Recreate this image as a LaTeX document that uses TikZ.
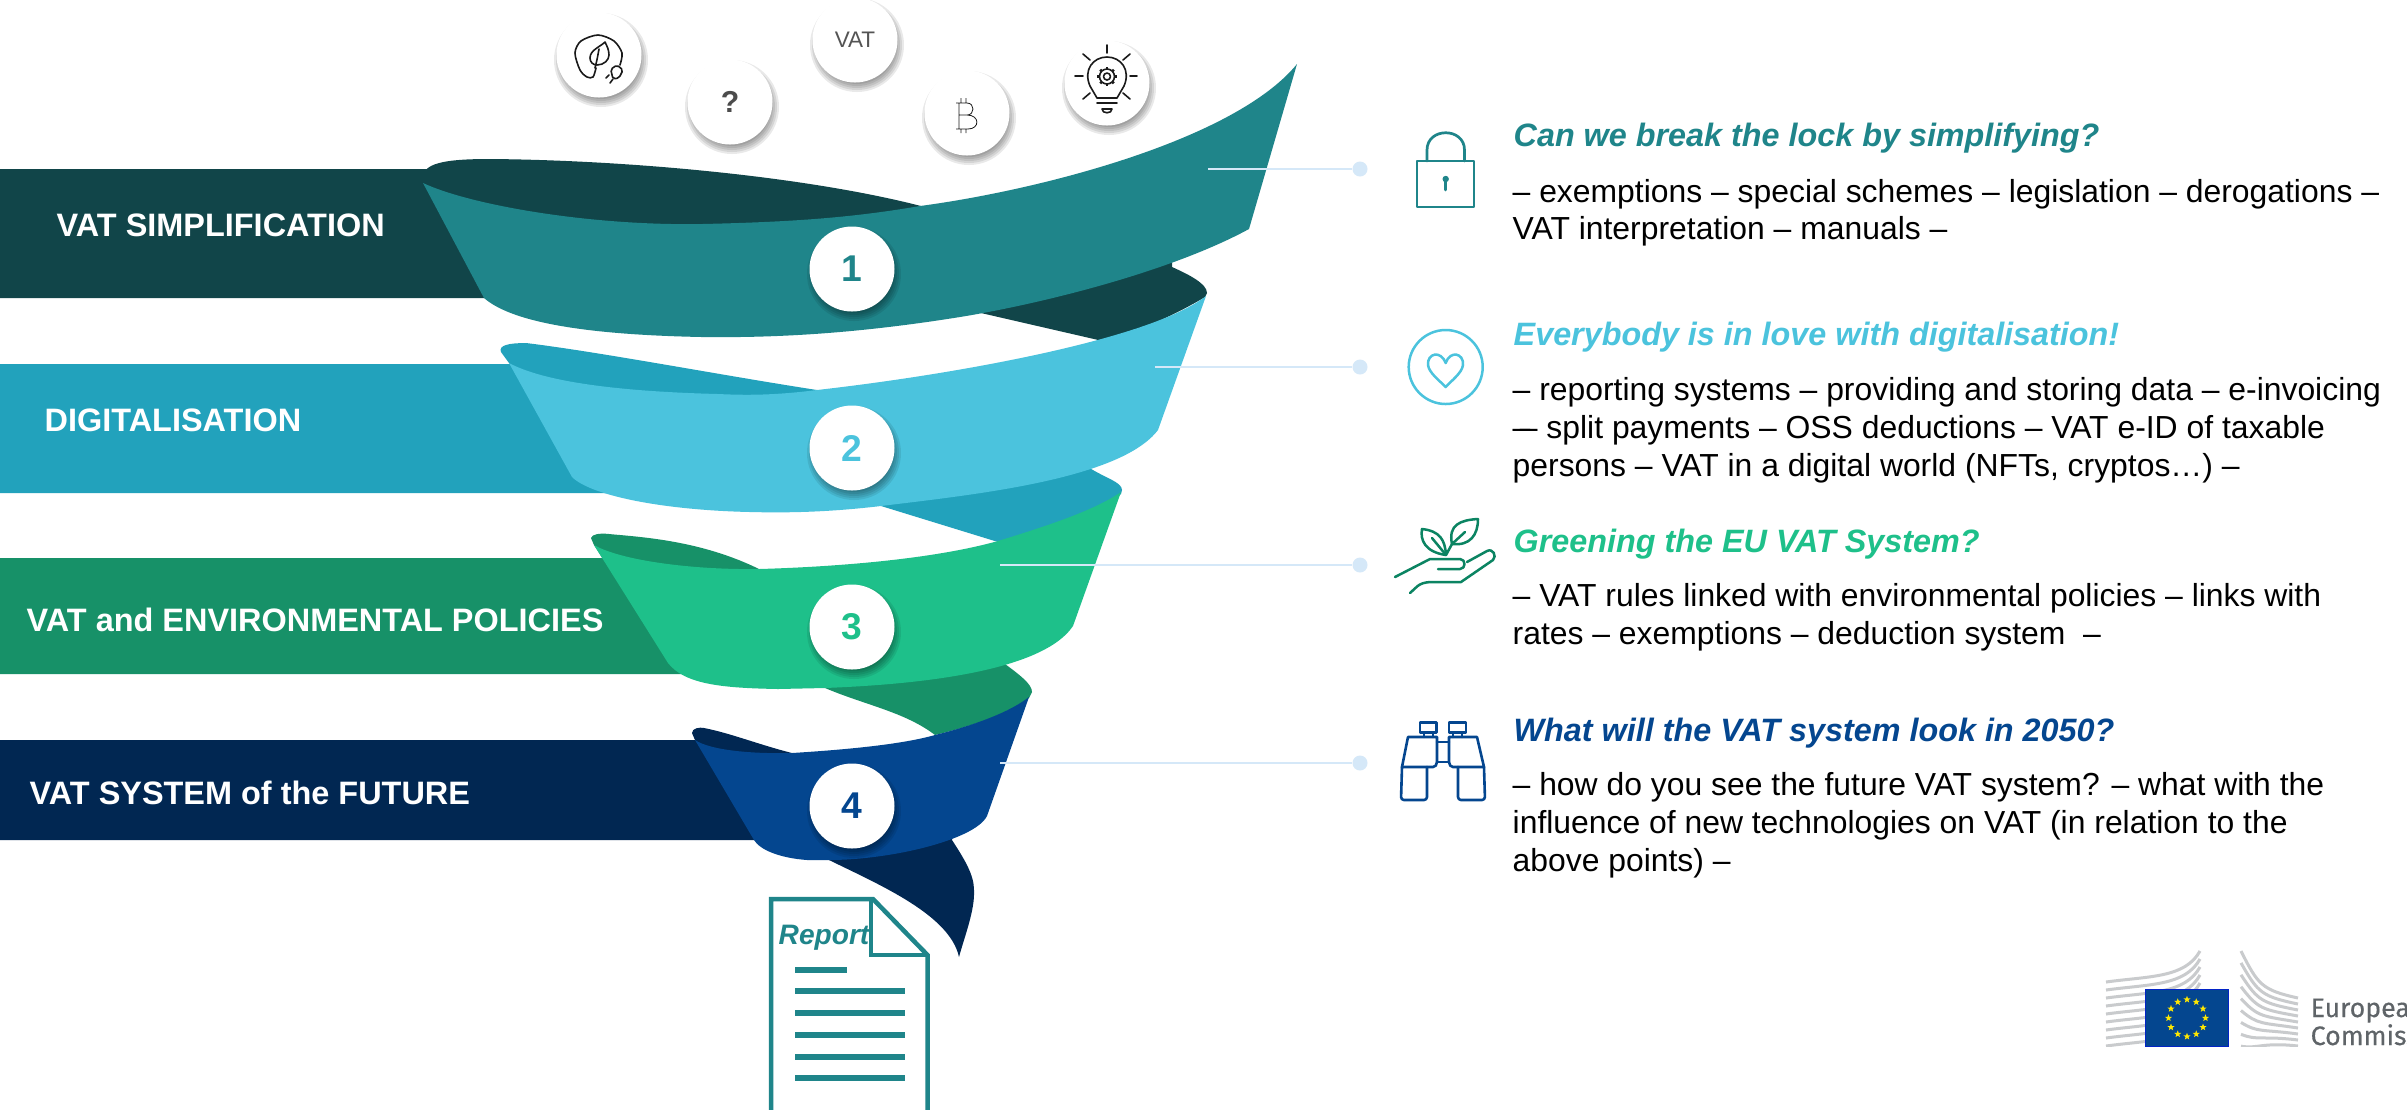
\documentclass[tikz,border=0pt]{standalone}
\usepackage{fontspec}
\setmainfont{Liberation Sans}
\newfontfamily\logofont{Fira Sans}
\usetikzlibrary{shapes.geometric}
\definecolor{tealD}{HTML}{114549}\definecolor{tealM}{HTML}{1F858A}
\definecolor{cyanD}{HTML}{22A2BC}\definecolor{cyanM}{HTML}{4BC3DD}
\definecolor{greenD}{HTML}{179168}\definecolor{greenM}{HTML}{1EC08A}
\definecolor{blueD}{HTML}{012752}\definecolor{blueM}{HTML}{04468F}
\definecolor{connC}{HTML}{D5E8F8}\definecolor{iconK}{HTML}{1A1A1A}
\definecolor{handC}{HTML}{0B8462}\definecolor{bldC}{HTML}{C9CBCD}
\definecolor{logoT}{HTML}{5F6468}
\newcommand{\softshadow}[2]{\foreach \rr in {37,39,...,47}{\fill[black,opacity=.085] (#1+2,#2+5) circle[radius=\rr];}}
\tikzset{
  x=0.1mm,y=-0.1mm,
  circ/.style={circle,fill=white,minimum size=8.5mm,inner sep=0pt},
  numc/.style={circ,font=\fontsize{10.6pt}{12pt}\selectfont\bfseries},
  bandlab/.style={anchor=base west,inner sep=0pt,text=white,font=\fontsize{9.23pt}{11pt}\selectfont\bfseries},
  ttl/.style={anchor=base west,inner sep=0pt,font=\fontsize{9.2pt}{11pt}\selectfont\bfseries\itshape},
  bod/.style={anchor=base west,inner sep=0pt,text=black,font=\fontsize{9.07pt}{11pt}\selectfont},
  conn/.style={draw=connC,line width=0.27mm},
  dotn/.style={circle,fill=connC,minimum size=1.5mm,inner sep=0pt},
  thinic/.style={draw=iconK,line width=0.16mm,line cap=round,line join=round},
  tealic/.style={draw=tealM,line width=0.27mm,line cap=round,line join=round},
  cyanic/.style={draw=cyanM,line width=0.25mm,line cap=round,line join=round},
  handic/.style={draw=handC,line width=0.25mm,line cap=round,line join=round},
  binic/.style={draw=blueM,line width=0.26mm,line cap=round,line join=round},
  docln/.style={fill=tealM},
  stripe/.style={draw=bldC,line width=0.3mm},
  starn/.style={star,star points=5,star point ratio=2.4,fill=yellow!90!orange,minimum size=0.75mm,inner sep=0pt},
}
\begin{document}
\begin{tikzpicture}
\useasboundingbox (0,0) rectangle (2407,1109);
\fill[white] (0,0) rectangle (2407,1109);

% ---- band 1
\fill[tealD] (0,169) -- (440,169) -- (490,298) -- (0,298) -- cycle;
\fill[tealD] (423,183) -- (423,176) .. controls (425,162) and (450,159) .. (490,159)
  .. controls (620,160) and (800,175) .. (921,206) -- (921,218) -- (702,240) -- (480,240) -- cycle;
\fill[tealD] (1172,267) .. controls (1190,275) and (1207,284) .. (1207,293) -- (1205,297)
  .. controls (1175,315) and (1140,330) .. (1107,342) -- (981,313) -- (981,295) -- (1172,250) -- cycle;
\fill[tealM] (423,183) .. controls (470,205) and (590,226) .. (702,224)
  .. controls (790,222) and (850,218) .. (920,206)
  .. controls (1040,190) and (1235,140) .. (1297,64)
  -- (1249,229) .. controls (1170,272) and (1040,304) .. (960,317)
  .. controls (860,333) and (780,338) .. (702,337)
  .. controls (600,335) and (515,325) .. (484,298) -- cycle;

% ---- band 2
\fill[cyanD] (0,364) -- (515,364) -- (612,493) -- (0,493) -- cycle;
\fill[cyanD] (509,363) -- (501,352) .. controls (498,345) and (510,343) .. (526,343)
  .. controls (600,352) and (720,375) .. (817,390) -- (817,400) -- (650,420) -- (540,400) -- cycle;
\fill[cyanD] (1088,467) .. controls (1105,478) and (1122,482) .. (1122,490) -- (1121,494)
  .. controls (1095,515) and (1050,530) .. (998,542) -- (881,506)
  -- (881,490) -- (1088,450) -- cycle;
\fill[cyanM] (509,363) .. controls (550,385) and (640,392) .. (718,394)
  .. controls (740,395) and (770,396) .. (817,390)
  .. controls (950,375) and (1150,340) .. (1206,296)
  -- (1158,430) .. controls (1120,480) and (970,495) .. (881,506)
  .. controls (830,512) and (790,513) .. (750,512)
  .. controls (660,510) and (590,495) .. (572,477) -- cycle;

% ---- band 3
\fill[greenD] (0,558) -- (610,558) -- (690,674) -- (0,674) -- cycle;
\fill[greenD] (594,545) -- (591,538) .. controls (592,534) and (600,533) .. (609,534)
  .. controls (640,537) and (700,540) .. (759,569) -- (759,580) -- (650,590) -- (610,570) -- cycle;
\fill[greenD] (1001,661) .. controls (1020,675) and (1032,684) .. (1032,692) -- (1029,698)
  .. controls (1005,715) and (975,725) .. (935,735)
  .. controls (905,712) and (865,705) .. (825,688) -- (825,670) -- (1001,645) -- cycle;
\fill[greenM] (594,545) .. controls (620,560) and (690,570) .. (759,569)
  .. controls (830,567) and (930,560) .. (998,541)
  .. controls (1050,525) and (1095,510) .. (1121,492)
  -- (1073,626) .. controls (1040,675) and (900,685) .. (825,688)
  -- (778,689) .. controls (725,688) and (685,685) .. (668,663) -- cycle;

% ---- band 4
\fill[blueD] (0,740) -- (697,740) -- (757,840) -- (0,840) -- cycle;
\fill[blueD] (695,740) -- (692,733) .. controls (692,728) and (700,727) .. (704,728)
  .. controls (730,733) and (760,745) .. (792,753) -- (770,765) -- (710,765) -- cycle;
\fill[blueD] (952,840) .. controls (965,860) and (974,875) .. (974,890)
  .. controls (975,910) and (965,935) .. (959,957)
  .. controls (950,915) and (880,885) .. (829,860) -- (829,845) -- (952,825) -- cycle;
\fill[blueM] (695,740) .. controls (710,750) and (750,754) .. (792,753)
  .. controls (840,750) and (900,745) .. (935,735)
  .. controls (975,725) and (1010,712) .. (1029,697)
  -- (987,816) .. controls (975,840) and (890,860) .. (829,860)
  -- (807,860) .. controls (780,858) and (760,850) .. (754,840) -- cycle;

% ---- connectors
\coordinate (s1) at (1208,169);
\coordinate (s2) at (1155,367);
\coordinate (s3) at (1000,565);
\coordinate (s4) at (1000,763);
\node[dotn] (d1) at (1360,169) {};
\node[dotn] (d2) at (1360,367) {};
\node[dotn] (d3) at (1360,565) {};
\node[dotn] (d4) at (1360,763) {};
\draw[conn] (s1) -- (d1);
\draw[conn] (s2) -- (d2);
\draw[conn] (s3) -- (d3);
\draw[conn] (s4) -- (d4);

% ---- circles
\softshadow{599}{55}\softshadow{730}{102}\softshadow{855}{40}\softshadow{967}{113}\softshadow{1107}{83}
\softshadow{852}{269}\softshadow{852}{448}\softshadow{852}{627}\softshadow{852}{806}
\node[circ] (c1) at (599,55) {};
\node[circ,font=\fontsize{8.6pt}{10pt}\selectfont\bfseries,text=black!70] (c2) at (730,102) {?};
\node[circ,font=\fontsize{6.4pt}{8pt}\selectfont,text=black!67] (c3) at (855,40) {VAT};
\node[circ] (c4) at (967,113) {};
\node[circ] (c5) at (1107,83) {};
\node[numc,text=tealM] (n1) at (852,269) {1};
\node[numc,text=cyanM] (n2) at (852,448) {2};
\node[numc,text=greenM] (n3) at (852,627) {3};
\node[numc,text=blueM] (n4) at (852,806) {4};

% leaf-plug icon
\draw[thinic] plot[smooth] coordinates {(596,68)(593,77)(587,77)(580,70)(575,53)(581,41)(598,35)(614,41)(622,53)(620,65)};
\draw[thinic] (605,42) .. controls (600,47) and (590,50) .. (590,58) .. controls (590,62) and (593,65) .. (597,65)
  .. controls (604,65) and (609,60) .. (609,55) .. controls (609,50) and (607,46) .. (605,42);
\draw[thinic] (599,49) .. controls (597,60) .. (595,68);
\draw[thinic,rounded corners=0.2mm] (610.7,69.3) -- (617,65) -- (623,70) -- (619,78) -- (613,79) -- cycle;
\draw[thinic] (609,75) -- (606,78) (613,79) -- (610,83);

% bitcoin icon
\draw[draw=iconK,line width=0.08mm] (956,103) -- (967,103) .. controls (975,103) and (975,115) .. (967,115) -- (959,115)
  (967,115) .. controls (980,115) and (980,129) .. (968,129) -- (956,129) (959,103) -- (959,129)
  (961,98) -- (961,103) (966,98) -- (966,103) (961,129) -- (961,133) (966,129) -- (966,133);

% bulb icon
\draw[thinic] (1097,98) -- (1090,86) .. controls (1083,70) and (1093,57) .. (1107,57)
  .. controls (1121,57) and (1131,70) .. (1124,86) -- (1117,98) -- cycle;
\draw[thinic] (1097,103) -- (1117,103);
\draw[thinic] (1102,109) -- (1112,109) .. controls (1112,114) and (1102,114) .. (1102,109);
\draw[thinic] (1107,45) -- (1107,53) (1075,76) -- (1083,76) (1130,76) -- (1137,76)
  (1083,54) -- (1090,60) (1130,54) -- (1123,60) (1083,99) -- (1090,93) (1130,99) -- (1123,93);
\draw[thinic] (1107,76.5) circle[radius=3.5];
\draw[thinic] (1107,76.5) circle[radius=7.5];
\foreach \a in {0,45,...,315}{\draw[draw=iconK,line width=0.25mm] (1107,76.5) ++(\a:7.5) -- ++(\a:2.2);}

% ---- left labels
\node[bandlab] (l1) at (56,236) {VAT SIMPLIFICATION};
\node[bandlab] (l2) at (44,431) {DIGITALISATION};
\node[bandlab] (l3) at (26,631) {VAT and ENVIRONMENTAL POLICIES};
\node[bandlab] (l4) at (29,804) {VAT SYSTEM of the FUTURE};

% ---- report
\draw[tealM,fill=white,line width=0.45mm,line join=miter] (771,899) -- (873,899) -- (927.5,955) -- (927.5,1120) -- (771,1120) -- cycle;
\draw[tealM,line width=0.4mm] (871,899) -- (871,955) -- (927.5,955);
\node[anchor=base west,inner sep=0pt,text=tealM,font=\fontsize{8pt}{10pt}\selectfont\bfseries\itshape] (rep) at (778,944) {Report};
\fill[docln] (795,967) rectangle (847,973);
\foreach \yy in {991,1013,1035,1057,1078}{\fill[docln] (795,\yy-3) rectangle (905,\yy+3);}

% ---- right icons
\draw[tealic] (1417,161) rectangle (1474,207);
\draw[tealic] (1427,161) -- (1427,150) .. controls (1427,127) and (1464.5,127) .. (1464.5,150) -- (1464.5,161);
\fill[tealM] (1445.7,179) circle[radius=3.2];
\draw[tealic] (1445.7,180) -- (1445.7,190);

\draw[cyanic] (1445.7,367) circle[radius=37];
\draw[cyanic] (1445.7,363) .. controls (1441,350) and (1427,353) .. (1428,365)
  .. controls (1429,373) and (1440,381) .. (1445.7,387)
  .. controls (1451,381) and (1462,373) .. (1463,365)
  .. controls (1464,353) and (1450,350) .. (1445.7,363) -- cycle;

\draw[handic] (1395,577) -- (1430,559) -- (1460,559) .. controls (1466,559) and (1466,569) .. (1460,569) -- (1438,569);
\draw[handic] (1467,562) -- (1487,551) .. controls (1493,548) and (1497,556) .. (1493,560) -- (1461,582) -- (1430,582)
  .. controls (1418,583) and (1417,587) .. (1410,593);
\draw[handic] (1446,555) .. controls (1445,540) and (1440,531) .. (1422,529) .. controls (1420,540) and (1425,552) .. (1446,555);
\draw[handic] (1432,538) -- (1446,555);
\draw[handic] (1478,519) .. controls (1460,520) and (1448,525) .. (1452,544) .. controls (1470,546) and (1478,535) .. (1478,519);
\draw[handic] (1446,555) -- (1452,544) -- (1465,532);

\draw[binic] (1420,722.5) rectangle (1436.5,732.5);
\draw[binic] (1449,722.5) rectangle (1466,732.5);
\draw[binic] (1424,732.5) -- (1424,737) (1433,732.5) -- (1433,737) (1453,732.5) -- (1453,737) (1462,732.5) -- (1462,737);
\draw[binic] (1402,767) -- (1408,737) -- (1437,737) -- (1437,762) .. controls (1437,765) and (1435,767) .. (1433,767) -- cycle;
\draw[binic] (1484,767) -- (1477,737) -- (1449,737) -- (1449,762) .. controls (1449,765) and (1451,767) .. (1453,767) -- cycle;
\draw[binic,rounded corners=0.3mm] (1402,767) -- (1401,800) -- (1427,800) -- (1427,767);
\draw[binic,rounded corners=0.3mm] (1458,767) -- (1458,800) -- (1485,800) -- (1484,767);
\draw[binic] (1437,742) -- (1449,742) (1437,762) -- (1449,762);

% ---- right text
\node[ttl,text=tealM] (t1) at (1513,146) {Can we break the lock by simplifying?};
\node[bod] (b11) at (1512,202) {– exemptions – special schemes – legislation – derogations –};
\node[bod] (b12) at (1512,239) {VAT interpretation – manuals –};
\node[ttl,text=cyanM] (t2) at (1513,345) {Everybody is in love with digitalisation!};
\node[bod] (b21) at (1512,400) {– reporting systems – providing and storing data – e-invoicing};
\node[bod] (b22) at (1512,438) {–\kern-0.33em– split payments – OSS deductions – VAT e-ID of taxable};
\node[bod] (b23) at (1512,476) {persons – VAT in a digital world (NFTs, cryptos…) –};
\node[ttl,text=greenM] (t3) at (1513,552) {Greening the EU VAT System?};
\node[bod] (b31) at (1512,606) {– VAT rules linked with environmental policies – links with};
\node[bod] (b32) at (1512,644) {rates – exemptions – deduction system\ \ –};
\node[ttl,text=blueM] (t4) at (1513,741) {What will the VAT system look in 2050?};
\node[bod] (b41) at (1512,795) {– how do you see the future VAT system? – what with the};
\node[bod] (b42) at (1512,833) {influence of new technologies on VAT (in relation to the};
\node[bod] (b43) at (1512,871) {above points) –};

% ---- logo
\foreach \i in {0,...,8}{
  \draw[stripe] (2106,982+8*\i) .. controls (2150,976+8*\i) and (2185,978+8*\i) .. (2200,951+8*\i);
  \draw[stripe] (2241,951+11.9*\i) .. controls (2258,985+8*\i) and (2262,990+6.5*\i) .. (2298,998+6*\i);
}
\fill[white] (2100,1047) rectangle (2300,1060);
\fill[blueM,draw=blue!50!blueM,line width=0.05mm] (2145,989) rectangle (2228,1046);
\foreach \k in {0,...,11}{\node[starn] (st\k) at ({2187+18.5*cos(30*\k)},{1018+18.5*sin(30*\k)}) {};}
\begin{scope}
\clip (2300,990) rectangle (2407,1060);
\node[anchor=base west,inner sep=0pt,text=logoT,font=\logofont\fontsize{7.6pt}{9pt}\selectfont\addfontfeature{FakeBold=0.3}] (e1) at (2310,1017) {European};
\node[anchor=base west,inner sep=0pt,text=logoT,font=\logofont\fontsize{7.6pt}{9pt}\selectfont\addfontfeature{FakeBold=0.3}] (e2) at (2310,1045) {Commission};
\end{scope}
\end{tikzpicture}
\end{document}
